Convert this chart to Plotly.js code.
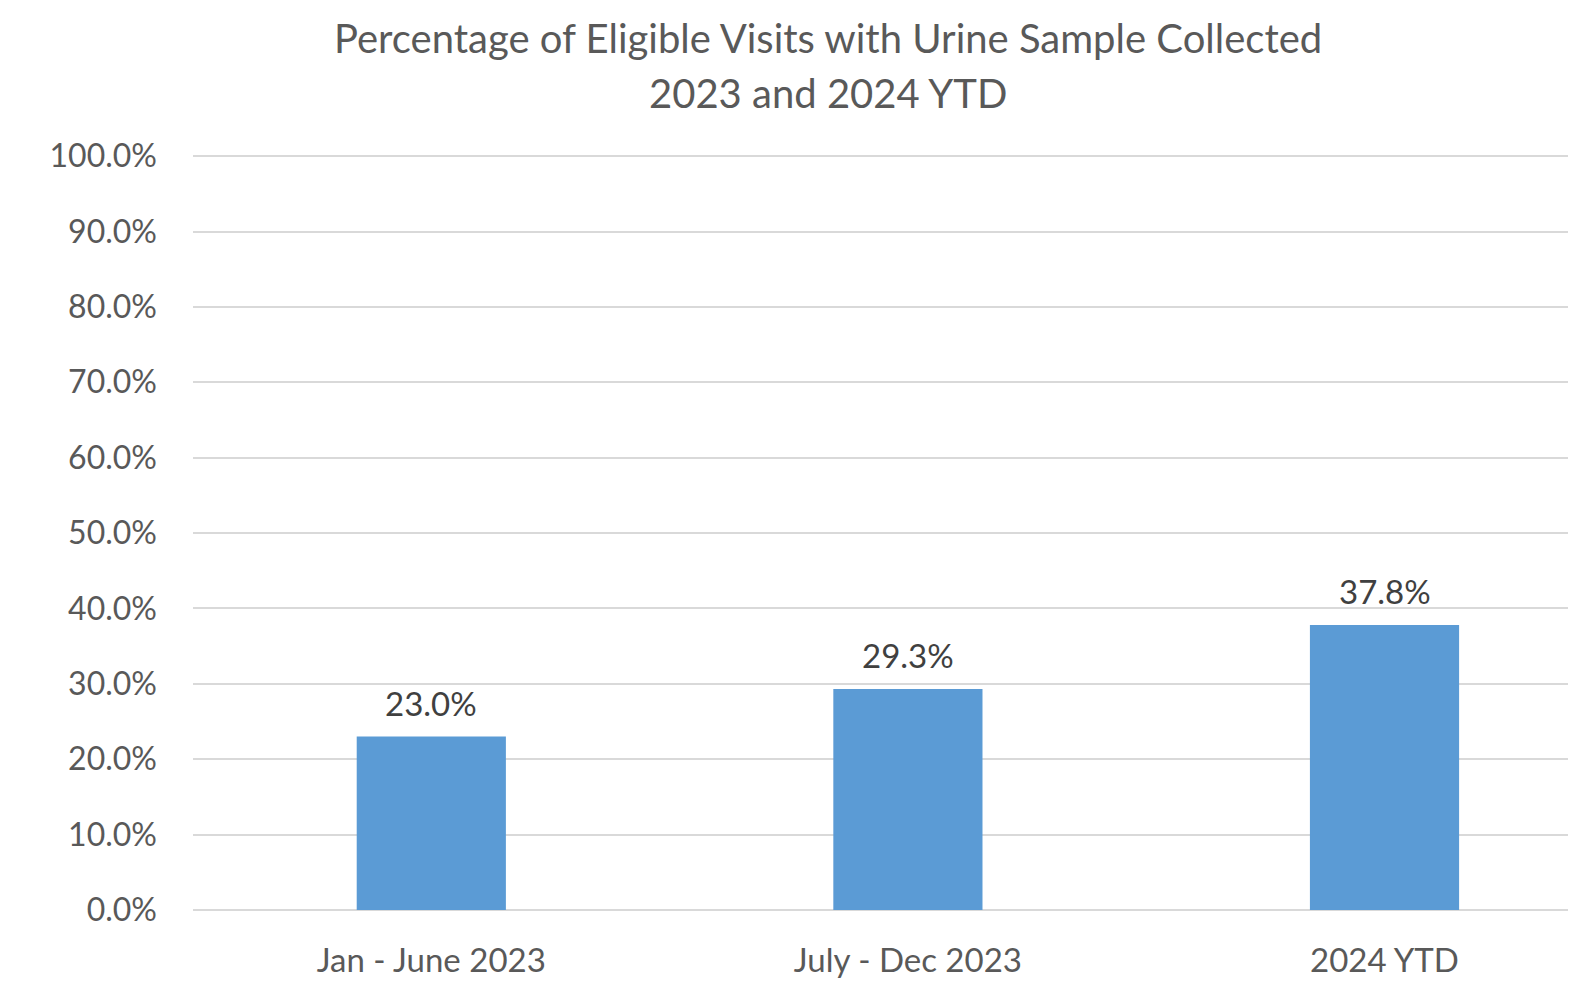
<!DOCTYPE html>
<html>
<head>
<meta charset="utf-8">
<script src="https://cdn.plot.ly/plotly-3.0.1.min.js"></script>
<style>html,body{margin:0;padding:0;background:#fff;overflow:hidden;width:100%;height:100%}#chart{width:100%;height:100%}</style>
</head>
<body>
<div id="chart"></div>
<script>
const categories = ["Jan - June 2023", "July - Dec 2023", "2024 YTD"];
const values = [23.0, 29.3, 37.8];
const valueLabels = ["23.0%", "29.3%", "37.8%"];
const titleLines = ["Percentage of Eligible Visits with Urine Sample Collected", "2023 and 2024 YTD"];

const W = window.innerWidth || 1585;
const H = window.innerHeight || 987;
const sx = W / 1585, sy = H / 987, s = Math.min(sx, sy);
const FONT = "Lato, 'Open Sans', sans-serif";

const data = [{
  type: "bar",
  x: categories,
  y: values,
  width: 0.313,
  marker: {color: "#5B9BD5"},
  textposition: "none",
  hoverinfo: "skip"
}];

const annotations = categories.map((c, i) => ({
  x: c, y: values[i], xref: "x", yref: "y",
  text: valueLabels[i], showarrow: false,
  yanchor: "bottom", yshift: 12 * s,
  font: {family: FONT, size: 33 * s, color: "#404040"}
}));

const titleY = [1.155, 1.082];
titleLines.forEach((t, i) => annotations.push({
  x: 0.4618, y: titleY[i], xref: "paper", yref: "paper",
  xanchor: "center", yanchor: "middle",
  text: t, showarrow: false,
  font: {family: FONT, size: 40 * s, color: "#595959"}
}));

const layout = {
  width: W, height: H,
  margin: {l: 193 * sx, r: 17 * sx, t: 155 * sy, b: 77 * sy, pad: 0},
  paper_bgcolor: "#ffffff", plot_bgcolor: "#ffffff",
  showlegend: false,
  xaxis: {
    type: "category",
    range: [-0.5, 2.385],
    showgrid: false, zeroline: false, showline: false,
    ticks: "", ticklabelstandoff: 28 * s,
    tickfont: {family: FONT, size: 33 * s, color: "#595959"}
  },
  yaxis: {
    range: [0, 100.15], dtick: 10, tick0: 0,
    tickformat: ".1f", ticksuffix: "%",
    showgrid: true, gridcolor: "#D9D9D9", gridwidth: 2 * s,
    zeroline: true, zerolinecolor: "#D9D9D9", zerolinewidth: 2 * s,
    showline: false, ticks: "", ticklabelstandoff: 35 * s,
    tickfont: {family: FONT, size: 32 * s, color: "#595959"}
  },
  annotations: annotations
};
Plotly.newPlot("chart", data, layout, {displayModeBar: false, staticPlot: true});
</script>
</body>
</html>
